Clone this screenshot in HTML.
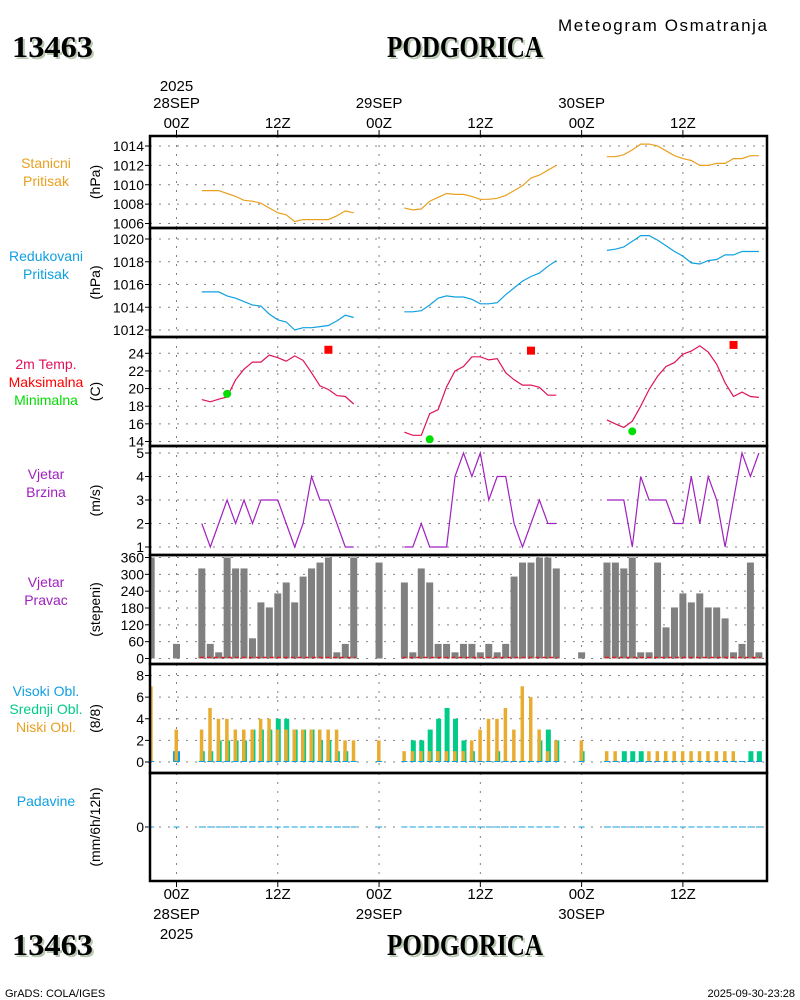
<!DOCTYPE html>
<html><head><meta charset="utf-8"><title>Meteogram Podgorica</title>
<style>
html,body{margin:0;padding:0;background:#fff;}
svg{display:block;font-family:"Liberation Sans",sans-serif;}
</style></head>
<body>
<svg id="chart" width="800" height="1000" viewBox="0 0 800 1000" xmlns="http://www.w3.org/2000/svg">
<rect width="800" height="1000" fill="#fff"/>
<g>
<text x="14" y="59" font-family="Liberation Serif, serif" font-weight="bold" font-size="31" fill="#b8c8b0" textLength="81" lengthAdjust="spacingAndGlyphs">13463</text>
<text x="12" y="57" font-family="Liberation Serif, serif" font-weight="bold" font-size="31" fill="#000" textLength="81" lengthAdjust="spacingAndGlyphs">13463</text>
<text x="389" y="59" font-family="Liberation Serif, serif" font-weight="bold" font-size="31" fill="#b8c8b0" textLength="156" lengthAdjust="spacingAndGlyphs">PODGORICA</text>
<text x="387" y="57" font-family="Liberation Serif, serif" font-weight="bold" font-size="31" fill="#000" textLength="156" lengthAdjust="spacingAndGlyphs">PODGORICA</text>
<text x="558" y="31" font-size="17" fill="#000" textLength="209">Meteogram Osmatranja</text>
</g>
<g id="plots"></g>
<g>
<text x="14" y="957" font-family="Liberation Serif, serif" font-weight="bold" font-size="31" fill="#b8c8b0" textLength="81" lengthAdjust="spacingAndGlyphs">13463</text>
<text x="12" y="955" font-family="Liberation Serif, serif" font-weight="bold" font-size="31" fill="#000" textLength="81" lengthAdjust="spacingAndGlyphs">13463</text>
<text x="389" y="957" font-family="Liberation Serif, serif" font-weight="bold" font-size="31" fill="#b8c8b0" textLength="156" lengthAdjust="spacingAndGlyphs">PODGORICA</text>
<text x="387" y="955" font-family="Liberation Serif, serif" font-weight="bold" font-size="31" fill="#000" textLength="156" lengthAdjust="spacingAndGlyphs">PODGORICA</text>
<text x="5" y="997" font-size="11" fill="#000">GrADS: COLA/IGES</text>
<text x="795" y="997" font-size="11" fill="#000" text-anchor="end">2025-09-30-23:28</text>
</g>
</svg>
<script>
// ===== data =====
const seg1Hours = [3,4,5,6,7,8,9,10,11,12,13,14,15,16,17,18,19,20,21];
const seg2Hours = [27,28,29,30,31,32,33,34,35,36,37,38,39,40,41,42,43,44,45];
const seg3Hours = [51,52,53,54,55,56,57,58,59,60,61,62,63,64,65,66,67,68,69];
const stationP1 = [1009.4,1009.4,1009.4,1009.1,1008.8,1008.4,1008.3,1008.1,1007.6,1007.1,1006.9,1006.2,1006.4,1006.4,1006.4,1006.4,1006.8,1007.3,1007.1];
const stationP2 = [1007.6,1007.4,1007.5,1008.3,1008.7,1009.1,1009.0,1009.0,1008.8,1008.5,1008.5,1008.6,1008.9,1009.4,1009.9,1010.7,1011.0,1011.5,1012.0];
const stationP3 = [1012.9,1012.9,1013.1,1013.6,1014.2,1014.2,1014.0,1013.5,1013.0,1012.7,1012.5,1012.0,1012.0,1012.2,1012.2,1012.7,1012.7,1013.0,1013.0];
const redP1 = [1015.35,1015.35,1015.35,1015.0,1014.8,1014.5,1014.2,1014.1,1013.4,1012.9,1012.7,1012.0,1012.2,1012.2,1012.3,1012.4,1012.8,1013.3,1013.1];
const redP2 = [1013.6,1013.6,1013.7,1014.2,1014.8,1015.0,1014.9,1014.9,1014.7,1014.3,1014.3,1014.4,1015.1,1015.7,1016.3,1016.7,1017.0,1017.6,1018.1];
const redP3 = [1019.0,1019.1,1019.3,1019.8,1020.3,1020.3,1019.9,1019.4,1018.9,1018.5,1017.9,1017.8,1018.1,1018.2,1018.6,1018.6,1018.9,1018.9,1018.9];
const temp1 = [18.75,18.5,18.8,19.05,21.0,22.2,23.0,23.0,23.8,23.5,23.1,23.7,23.2,21.8,20.3,19.9,19.2,19.1,18.25];
const temp2 = [15.05,14.7,14.7,17.15,17.6,20.2,22.0,22.5,23.6,23.6,23.25,23.4,21.8,21.0,20.4,20.4,20.15,19.25,19.25];
const temp3 = [16.45,16.0,15.6,16.3,18.0,19.9,21.4,22.5,22.95,23.9,24.25,24.85,24.15,22.75,20.65,19.1,19.6,19.1,19.0];
const maxHours = [18,42,66];
const maxTemps = [24.4,24.3,24.95];
const minHours = [6,30,54];
const minTemps = [19.4,14.25,15.15];
const wind1 = [2,1,2,3,2,3,2,3,3,3,2,1,2,4,3,3,2,1,1];
const wind2 = [1,1,2,1,1,1,4,5,4,5,3,4,4,2,1,2,3,2,2];
const wind3 = [3,3,3,1,4,3,3,3,2,2,4,2,4,3,1,3,5,4,5];
const dirHours = [-3,0,3,4,5,6,7,8,9,10,11,12,13,14,15,16,17,18,19,20,21,24,27,28,29,30,31,32,33,34,35,36,37,38,39,40,41,42,43,44,45,48,51,52,53,54,55,56,57,58,59,60,61,62,63,64,65,66,67,68,69];
const dirValues = [360,52,321,52,22,360,321,321,72,200,182,232,271,200,292,321,342,360,22,52,360,342,271,22,321,271,52,52,22,52,52,22,52,22,52,292,342,342,360,360,321,22,342,342,321,360,22,22,342,111,182,232,200,232,182,182,143,22,52,342,22];
const cloudHours = dirHours;
const lowCloud = [7,3,3,5,4,4,3,3,3,4,4,3,3,3,3,3,3,3,3,2,2,2,1,1,1,1,1,1,1,1,2,3,4,4,5,3,7,6,3,1,2,2,1,1,0,0,0,1,1,1,1,1,1,1,1,1,1,1,0,0,0];
const midCloud = [0,0,1,1,2,2,2,2,3,3,3,4,4,3,3,3,2,2,1,1,0,0,0,2,2,3,4,5,4,2,1,0,0,1,0,0,0,0,2,3,2,1,0,0,1,1,1,0,0,0,0,0,0,0,0,0,0,0,0,1,1];
const highCloud = [0,1,0,0,0,0,0,0,0,0,0,0,0,0,0,0,0,0,0,0,0,0,0,0,0,0,0,0,0,0,0,0,0,0,0,0,0,0,0,0,0,0,0,0,0,0,0,0,0,0,0,0,0,0,0,0,0,0,0,0,0];
const precipValues = cloudHours.map(()=>0);
const timeTickHours = [0,12,24,36,48,60];
const timeTickLabels = ['00Z','12Z','00Z','12Z','00Z','12Z'];
const dayLabels = ['28SEP','','29SEP','','30SEP',''];
const stationTicks = [1006,1008,1010,1012,1014];
const redTicks = [1012,1014,1016,1018,1020];
const tempTicks = [14,16,18,20,22,24];
const windTicks = [1,2,3,4,5];
const dirTicks = [0,60,120,180,240,300,360];
const cloudTicks = [0,2,4,6,8];

// ===== geometry =====
const NS='http://www.w3.org/2000/svg';
const L=150, R=767;
const xs = h => 176.5 + 8.44*h;
function lin(v0,p0,v1,p1){return v=>p0+(v-v0)*(p1-p0)/(v1-v0);}
const yStation = lin(1006,223.5,1014,146);
const yRed = lin(1012,330,1020,239);
const yTemp = lin(14,441.5,24,353.3);
const yWind = lin(1,547,5,453);
const yDir = lin(0,658.5,360,557.5);
const yCloud = lin(0,762,8,675.5);
const yPrecip = v=>827-v*20;
const plots=document.getElementById('plots');
function el(tag,attrs,parent){const e=document.createElementNS(NS,tag);for(const k in attrs)e.setAttribute(k,attrs[k]);(parent||plots).appendChild(e);return e;}
function txt(s,x,y,attrs,parent){const t=el('text',Object.assign({x:x,y:y},attrs),parent);t.textContent=s;return t;}

const panels=[
 {name:'station-pressure',top:136,bot:228,ticks:stationTicks,ys:yStation,unit:'(hPa)',labels:[['Stanicni','#e8a020'],['Pritisak','#e8a020']],ly:168},
 {name:'reduced-pressure',top:228,bot:337,ticks:redTicks,ys:yRed,unit:'(hPa)',labels:[['Redukovani','#10a0e0'],['Pritisak','#10a0e0']],ly:261},
 {name:'temperature',top:337,bot:446,ticks:tempTicks,ys:yTemp,unit:'(C)',labels:[['2m Temp.','#e0105a'],['Maksimalna','#ff0000'],['Minimalna','#00dd00']],ly:369},
 {name:'wind-speed',top:446,bot:555,ticks:windTicks,ys:yWind,unit:'(m/s)',labels:[['Vjetar','#a020c0'],['Brzina','#a020c0']],ly:479},
 {name:'wind-direction',top:555,bot:664,ticks:dirTicks,ys:yDir,unit:'(stepeni)',labels:[['Vjetar','#a020c0'],['Pravac','#a020c0']],ly:587},
 {name:'cloud-cover',top:664,bot:773,ticks:cloudTicks,ys:yCloud,unit:'(8/8)',labels:[['Visoki Obl.','#10a0e0'],['Srednji Obl.','#00cc88'],['Niski Obl.','#e8a020']],ly:696},
 {name:'precipitation',top:773,bot:881,ticks:[0],ys:yPrecip,unit:'(mm/6h/12h)',labels:[['Padavine','#10a0e0']],ly:806},
];

panels.forEach(p=>{
 const g=el('g',{});
 
 
 timeTickHours.forEach(h=>{
  const ln=el('line',{x1:xs(h),x2:xs(h),y1:p.top,y2:p.bot,stroke:'#808080','stroke-width':1,'stroke-dasharray':'2,7'},g);
  
  
 });
 p.ticks.forEach(v=>{
  const y=p.ys(v);
  const ln=el('line',{x1:L,x2:R,y1:y,y2:y,stroke:'#808080','stroke-width':1,'stroke-dasharray':'2,7'},g);
  
  
  const tk=el('line',{x1:L-5,x2:L,y1:y,y2:y,stroke:'#000','stroke-width':1},g);
  
  
  const t=txt(String(v),L-6,y+5,{'font-size':14,'text-anchor':'end',fill:'#000'},g);
  
  
 });
 const cy=(p.top+p.bot)/2;
 const u=txt(p.unit,0,0,{'font-size':14,'text-anchor':'middle',fill:'#000',transform:'translate(100,'+cy+') rotate(-90)'},g);
 
 
 p.labels.forEach((lb,i)=>{
  const t=txt(lb[0],46,p.ly+i*18,{'font-size':14,'text-anchor':'middle',fill:lb[1]},g);
  
  
 });
 p.g=g;
});

function line(hours,vals,ys,color,g,name){
 const pts=hours.map((h,i)=>xs(h).toFixed(1)+','+ys(vals[i]).toFixed(1)).join(' ');
 const pl=el('polyline',{points:pts,fill:'none',stroke:color,'stroke-width':1.2},g);
 
 
}
const segs=[seg1Hours,seg2Hours,seg3Hours];
[stationP1,stationP2,stationP3].forEach((v,i)=>line(segs[i],v,yStation,'#e8a020',panels[0].g,'station-pressure-line'));
[redP1,redP2,redP3].forEach((v,i)=>line(segs[i],v,yRed,'#10a0e0',panels[1].g,'reduced-pressure-line'));
[temp1,temp2,temp3].forEach((v,i)=>line(segs[i],v,yTemp,'#e0105a',panels[2].g,'temperature-line'));
[wind1,wind2,wind3].forEach((v,i)=>line(segs[i],v,yWind,'#a020c0',panels[3].g,'wind-speed-line'));
maxHours.forEach((h,i)=>{
 const r=el('rect',{x:xs(h)-4,y:yTemp(maxTemps[i])-4,width:8,height:8,fill:'#ff0000'},panels[2].g);
 
 
});
minHours.forEach((h,i)=>{
 const c=el('circle',{cx:xs(h),cy:yTemp(minTemps[i]),r:4,fill:'#00dd00'},panels[2].g);
 
 
});
dirHours.forEach((h,i)=>{
 let x0=xs(h)-3.5, w=7;
 if(x0<L){w-= (L-x0); x0=L;}
 const r=el('rect',{x:x0,y:yDir(dirValues[i]),width:w,height:yDir(0)-yDir(dirValues[i]),fill:'#808080'},panels[4].g);
 
 
});
segs.forEach(s=>{
 const ln=el('line',{x1:xs(s[0])-2,x2:xs(s[s.length-1])+2,y1:yDir(0)-1,y2:yDir(0)-1,stroke:'#e02020','stroke-width':1.5,'stroke-dasharray':'4,3'},panels[4].g);
 
 
});
cloudHours.forEach((h,i)=>{
 const x=xs(h);
 const cl=(x0,w)=>{if(x0<L){w-=(L-x0);x0=L;}return [x0,Math.max(w,0)];};
 if(highCloud[i]>0){const [a,w]=cl(x-3.5,7);const r=el('rect',{x:a,y:yCloud(highCloud[i]),width:w,height:yCloud(0)-yCloud(highCloud[i]),fill:'#10a0e0'},panels[5].g);
  
  }
 if(midCloud[i]>0){const [a,w]=cl(x-2,5);const r=el('rect',{x:a,y:yCloud(midCloud[i]),width:w,height:yCloud(0)-yCloud(midCloud[i]),fill:'#00cc88'},panels[5].g);
  
  }
 if(lowCloud[i]>0){const [a,w]=cl(x-2,3.5);const r=el('rect',{x:a,y:yCloud(lowCloud[i]),width:w,height:yCloud(0)-yCloud(lowCloud[i]),fill:'#e8ac30'},panels[5].g);
  
  }
 const b=el('line',{x1:x-3,x2:x+3,y1:yCloud(0)-0.5,y2:yCloud(0)-0.5,stroke:'#10a0e0','stroke-width':1},panels[5].g);
 
 
 const pm=el('line',{x1:x-3,x2:x+3,y1:yPrecip(precipValues[i]),y2:yPrecip(precipValues[i]),stroke:'#10a0e0','stroke-width':1},panels[6].g);
 
 
});
panels.forEach(p=>{
 const r=el('rect',{x:L,y:p.top,width:R-L,height:p.bot-p.top,fill:'none',stroke:'#000','stroke-width':2.5});
 
 
});
timeTickHours.forEach((h,i)=>{
 const x=xs(h);
 el('line',{x1:x,x2:x,y1:130,y2:136,stroke:'#000'});
 el('line',{x1:x,x2:x,y1:881,y2:887,stroke:'#000'});
 const a=txt(timeTickLabels[i],x,128,{'font-size':15,'text-anchor':'middle',fill:'#000'});
 
 
 const b=txt(timeTickLabels[i],x,899,{'font-size':15,'text-anchor':'middle',fill:'#000'});
 
 
 if(dayLabels[i]){
  const c=txt(dayLabels[i],x,108,{'font-size':15,'text-anchor':'middle',fill:'#000'});
  
  
  const d=txt(dayLabels[i],x,919,{'font-size':15,'text-anchor':'middle',fill:'#000'});
  
  
 }
});
const y1=txt('2025',xs(0),91,{'font-size':15,'text-anchor':'middle',fill:'#000'});


const y2=txt('2025',xs(0),939,{'font-size':15,'text-anchor':'middle',fill:'#000'});


</script>
</body></html>
